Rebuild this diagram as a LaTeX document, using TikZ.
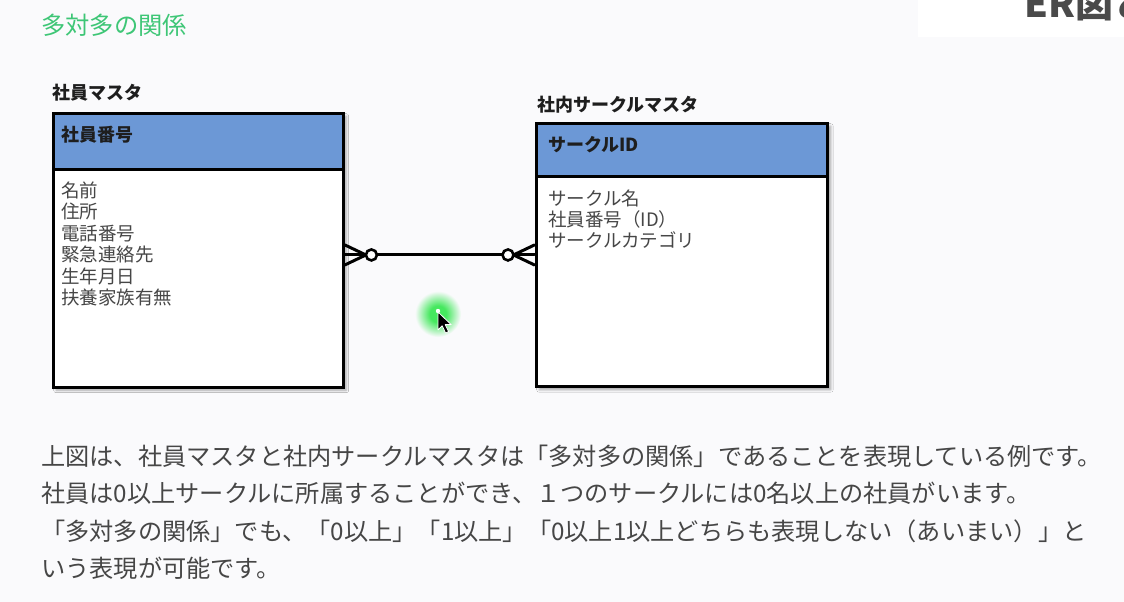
\documentclass[tikz,border=0pt]{standalone}
\usepackage{xcolor}
\usepackage{fontspec}
\usepackage{tikz}
\usetikzlibrary{positioning, shadows.blur}
\setmainfont{Noto Sans CJK JP}
\definecolor{mybg}{RGB}{250,250,252}
\definecolor{mygreen}{RGB}{62,198,118}
\definecolor{myglow}{RGB}{70,232,95}
\definecolor{myblue}{RGB}{108,152,214}
\definecolor{mydark}{RGB}{30,30,30}
\definecolor{mytext}{RGB}{70,70,70}
\definecolor{mybanner}{RGB}{74,74,74}
\pgfdeclareradialshading{glowshade}{\pgfpoint{0bp}{0bp}}{color(0bp)=(myglow); color(9bp)=(myglow); color(25bp)=(mybg); color(50bp)=(mybg)}
\tikzset{
  tblbox/.style={rectangle, draw=black, fill=white, line width=3.4pt,
    inner sep=0pt, anchor=north west,
    blur shadow={shadow xshift=3pt, shadow yshift=-3pt, shadow blur radius=2.5pt, shadow opacity=35}},
  hdrbox/.style={rectangle, draw=black, fill=myblue, line width=3.4pt,
    inner sep=0pt, anchor=north west},
  tbllabel/.style={anchor=base west, inner sep=0pt, text=mydark,
    font=\fontsize{18}{21.5}\selectfont\bfseries},
  attr/.style={anchor=base west, inner sep=0pt, text=mytext,
    font=\fontsize{18.5}{21.5}\selectfont},
  keyattr/.style={attr, text=mydark, font=\fontsize{18}{21.5}\selectfont\bfseries},
  para/.style={anchor=base west, inner sep=0pt, text=mytext,
    font=\fontsize{24.2}{28}\selectfont},
  relline/.style={line width=3pt, color=black, line cap=round, line join=round},
  zerocirc/.style={circle, draw=black, fill=white, line width=2.6pt,
    minimum size=11pt, inner sep=0pt}
}
\begin{document}
\begin{tikzpicture}[x=1pt, y=-1pt]
  \useasboundingbox (0,0) rectangle (1124,602);
  \clip (0,0) rectangle (1124,602);
  \fill[mybg] (0,0) rectangle (1124,602);

  % Title and banner
  \node[anchor=base west, inner sep=0pt, text=mygreen,
    font=\fontsize{24.3}{28}\selectfont] (title) at (41,35) {多対多の関係};
  \fill[white] (918,0) rectangle (1124,37);
  \node[anchor=base west, inner sep=0pt, text=mybanner,
    font=\fontsize{38}{40}\selectfont\bfseries] (banner) at (1024,18) {ER図と};

  % Employee master
  \node[tbllabel] (emp_lbl) at (52,99.5) {社員マスタ};
  \node[tblbox, minimum width=290pt, minimum height=274pt] (emp) at (51.5,111.5) {};
  \node[hdrbox, minimum width=290pt, minimum height=56pt] (emp_hdr) at (51.5,111.5) {};
  \node[keyattr] (emp_key) at (61,141.5) {社員番号};
  \foreach \t [count=\i from 0] in {名前,住所,電話番号,緊急連絡先,生年月日,扶養家族有無}
    \node[attr] (emp_a\i) at (61,197+21.5*\i) {\t};

  % Circle master
  \node[tbllabel] (circ_lbl) at (537,111) {社内サークルマスタ};
  \node[tblbox, minimum width=291.5pt, minimum height=263.5pt] (circ) at (534.5,121.5) {};
  \node[hdrbox, minimum width=291.5pt, minimum height=53pt] (circ_hdr) at (534.5,121.5) {};
  \node[keyattr] (circ_key) at (548,151) {サークルID};
  \foreach \t [count=\i from 0] in {サークル名,社員番号（ID）,サークルカテゴリ}
    \node[attr] (circ_a\i) at (548,205+21*\i) {\t};

  % Many-to-many relation (zero or more on both ends)
  \coordinate (lf) at (emp.east |- circ.west);
  \coordinate (rf) at (circ.west);
  \draw[relline] (lf) -- (rf);
  \draw[relline] (lf) ++(0,-10) -- ++(21,10) -- ++(-21,10);
  \draw[relline] (rf) ++(0,-10) -- ++(-21,10) -- ++(21,10);
  \node[zerocirc] (lcirc) at ([xshift=26.5pt]lf) {};
  \node[zerocirc] (rcirc) at ([xshift=-26.5pt]rf) {};

  % Mouse pointer
  \shade[shading=glowshade] (438,314) circle (23);
  \fill[white] (438,311) circle (2.2);
  \filldraw[fill=black, draw=white, line width=0.8pt, line join=round]
    (438,312) -- ++(0,18) -- ++(4.2,-4.2) -- ++(3.4,7.2) -- ++(3,-1.4)
    -- ++(-3.4,-7) -- ++(6,0) -- cycle;

  % Explanation
  \node[para] (txt1) at (41,465) {上図は、社員マスタと社内サークルマスタは「多対多の関係」であることを表現している例です。};
  \node[para] (txt2) at (41,502.5) {社員は0以上サークルに所属することができ、１つのサークルには0名以上の社員がいます。};
  \node[para] (txt3) at (41,540) {「多対多の関係」でも、「0以上」「1以上」「0以上1以上どちらも表現しない（あいまい）」と};
  \node[para] (txt4) at (41,577.5) {いう表現が可能です。};
\end{tikzpicture}
\end{document}
